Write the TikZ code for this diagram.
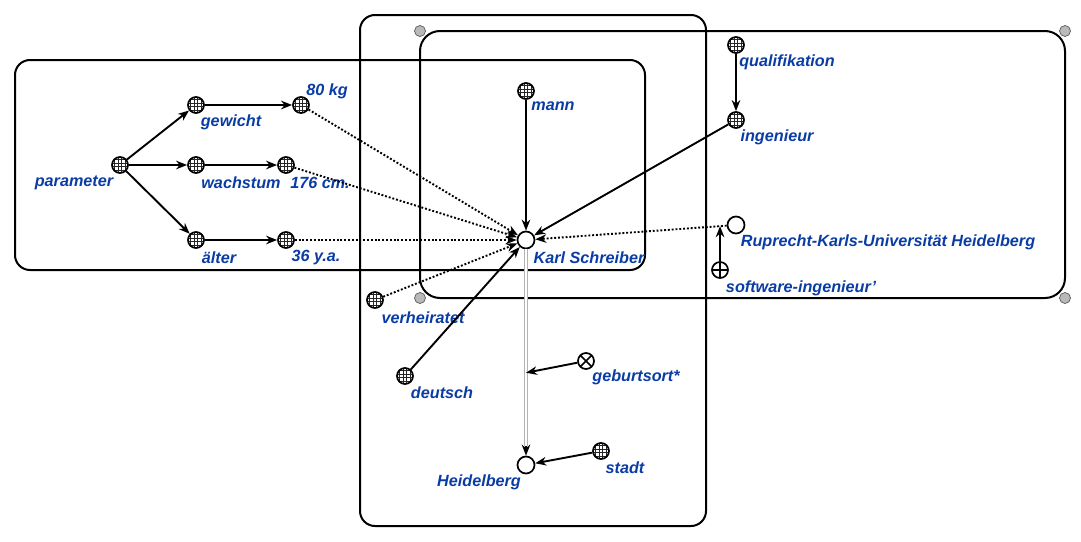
\documentclass[tikz,border=0pt]{standalone}
\usepackage{fontspec}
\setmainfont{Liberation Sans}
\usetikzlibrary{arrows.meta,calc}
\definecolor{lblblue}{RGB}{10,60,165}
\begin{document}
\begin{tikzpicture}[x=1pt,y=-1pt,
  hatch/.style={circle, draw, line width=1.7pt, minimum size=16pt, inner sep=0pt, fill=white,
    path picture={\foreach \d in {-5.25,-1.75,1.75,5.25}{
      \draw[line width=0.7pt, black!85] ($(path picture bounding box.center)+(\d,-9)$) -- ++(0,18);
      \draw[line width=0.7pt, black!85] ($(path picture bounding box.center)+(-9,\d)$) -- ++(18,0);}}},
  plusn/.style={circle, draw, line width=1.7pt, minimum size=16pt, inner sep=0pt, fill=white,
    path picture={\draw[line width=1.5pt] (path picture bounding box.north) -- (path picture bounding box.south)
      (path picture bounding box.west) -- (path picture bounding box.east);}},
  crossn/.style={circle, draw, line width=1.7pt, minimum size=16pt, inner sep=0pt, fill=white,
    path picture={\draw[line width=1.5pt] (path picture bounding box.north west) -- (path picture bounding box.south east)
      (path picture bounding box.south west) -- (path picture bounding box.north east);}},
  emptyn/.style={circle, draw, line width=1.7pt, minimum size=17pt, inner sep=0pt, fill=white},
  lbl/.style={text=lblblue, font=\bfseries\itshape\fontsize{16.2}{18}\selectfont, inner sep=0pt, yshift=-1.5pt},
  arr/.style={-{Stealth[length=11pt,width=8.5pt,inset=3.5pt]}, line width=1.9pt},
  dotarr/.style={arr, dash pattern=on 1.9pt off 1.9pt},
  grp/.style={draw, line width=2pt, rounded corners=15pt},
  gdot/.style={circle, fill=gray!55, draw=gray!70!black, line width=0.7pt, minimum size=11pt, inner sep=0pt}]
\useasboundingbox (0,0) rectangle (1081,541);
% group boxes
\draw[grp] (15,60) rectangle (645,270);
\draw[grp] (360,15) rectangle (706,526);
\draw[grp, rounded corners=20pt] (420,31) rectangle (1065,298);
\node[gdot] (g1) at (420,31) {};
\node[gdot] (g2) at (1065,31) {};
\node[gdot] (g3) at (420,298) {};
\node[gdot] (g4) at (1065,298) {};
% nodes
\node[hatch] (param) at (120,165) {};
\node[hatch] (gew) at (196,105) {};
\node[hatch] (wachs) at (196,165) {};
\node[hatch] (alt) at (196,240) {};
\node[hatch] (kg) at (301,105) {};
\node[hatch] (cm) at (286,165) {};
\node[hatch] (ya) at (286,240) {};
\node[hatch] (mann) at (526,91) {};
\node[emptyn] (karl) at (526,240) {};
\node[hatch] (qual) at (736,45) {};
\node[hatch] (ing) at (736,120) {};
\node[emptyn] (rup) at (736,225) {};
\node[plusn] (soft) at (720,270) {};
\node[hatch] (verh) at (375,300) {};
\node[hatch] (deut) at (405,376) {};
\node[crossn] (geb) at (586,361) {};
\node[emptyn] (heid) at (526,465) {};
\node[hatch] (stadt) at (601,451) {};
% labels
\node[lbl] (lparam) at (74,181) {parameter};
\node[lbl] (lgew) at (231,121) {gewicht};
\node[lbl] (lwachs) at (241,181) {wachstum};
\node[lbl] (lalt) at (219,256) {älter};
\node[lbl] (lkg) at (327,90) {80 kg};
\node[lbl] (lcm) at (320,181) {176 cm.};
\node[lbl] (lya) at (316,256) {36 y.a.};
\node[lbl] (lmann) at (553,105) {mann};
\node[lbl] (lkarl) at (589,256) {Karl Schreiber};
\node[lbl] (lqual) at (787,61) {qualifikation};
\node[lbl] (ling) at (777,136) {ingenieur};
\node[lbl] (lrup) at (888,241) {Ruprecht-Karls-Universität Heidelberg};
\node[lbl] (lsoft) at (801,287) {software-ingenieur'};
\node[lbl] (lverh) at (423,316) {verheiratet};
\node[lbl] (ldeut) at (442,391) {deutsch};
\node[lbl] (lgeb) at (636,376) {geburtsort*};
\node[lbl] (lheid) at (479,481) {Heidelberg};
\node[lbl] (lstadt) at (625,466) {stadt};
% edges
\draw[arr] (param) -- (gew);
\draw[arr] (param) -- (wachs);
\draw[arr] (param) -- (alt);
\draw[arr] (gew) -- (kg);
\draw[arr] (wachs) -- (cm);
\draw[arr] (alt) -- (ya);
\draw[dotarr] (kg) -- (karl);
\draw[dotarr] (cm) -- (karl);
\draw[dotarr] (ya) -- (karl);
\draw[dotarr] (verh) -- (karl);
\draw[dotarr] (rup) -- (karl);
\draw[arr] (mann) -- (karl);
\draw[arr] (ing) -- (karl);
\draw[arr] (deut) -- (karl);
\draw[arr] (qual) -- (ing);
\coordinate (swtip) at ($(rup)!0.076!(karl)$);
\draw[arr] (soft) -- (swtip);
\coordinate (dbend) at ($(heid.north)+(0,-10)$);
\draw[gray!60, double=white, double distance=1.6pt, line width=1.4pt] (karl) -- (dbend);
\draw[arr] (dbend) -- (heid);
\coordinate (gbtip) at ($(karl)!0.59!(heid)$);
\draw[arr] (geb) -- (gbtip);
\draw[arr] (stadt) -- (heid);
\end{tikzpicture}
\end{document}
